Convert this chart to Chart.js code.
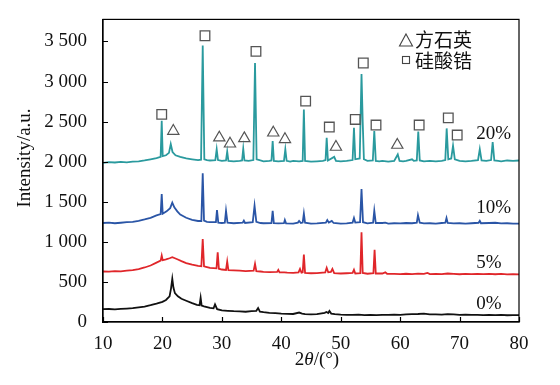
<!DOCTYPE html>
<html><head><meta charset="utf-8">
<script src="https://cdn.jsdelivr.net/npm/chart.js@4.4.0/dist/chart.umd.min.js"></script>
<style>html,body{margin:0;padding:0;background:#fff}</style>
</head><body>
<canvas id="c" width="560" height="385"></canvas>
<script>
// ---- data (2θ in degrees, intensity in a.u.) ----
const xTicks = [10,20,30,40,50,60,70,80];
const yTicks = [0,500,1000,1500,2000,2500,3000,3500];
const yTickLabels = ['0','500','1 000','1 500','2 000','2 500','3 000','3 500'];
const seriesNames = ['0%','5%','10%','20%'];
const legendNames = ['方石英','硅酸锆'];

const s0 = [[10,160],[11,162],[12,158],[13,165],[14,168],[15,172],[16,182],[17,192],[18,210],[19,230],[20,252],[20.6,275],[21.2,320],[21.45,420],[21.66,540],[21.85,430],[22.1,360],[22.6,320],[23.2,290],[24,265],[25,235],[25.8,215],[26.25,210],[26.43,303],[26.6,205],[27,195],[28,175],[28.6,170],[28.85,220],[29.2,160],[30,145],[31,140],[32,135],[33,132],[34,128],[35,135],[35.8,140],[36.1,175],[36.4,130],[37,122],[38,115],[39,110],[40,105],[41,102],[42,100],[43,118],[43.5,105],[44,98],[45,95],[46,97],[47.3,115],[47.6,125],[47.9,112],[48.1,137],[48.4,105],[49,98],[50,92],[51,90],[52,88],[53,92],[54,86],[55,88],[56,85],[57,90],[58,88],[59,92],[60,90],[61,95],[62,98],[63,100],[64,104],[65,96],[66,95],[67,92],[68,98],[69,94],[70,90],[71,92],[72,88],[73,90],[74,86],[75,88],[76,85],[77,88],[78,84],[79,86],[80,85]];

const s5 = [[10,630],[11,628],[12,635],[13,632],[14,640],[15,648],[16,660],[17,680],[18,705],[19,740],[19.7,765],[19.88,829],[20.05,770],[20.6,780],[21.2,795],[21.66,808],[22.1,795],[22.6,780],[23.2,760],[24,735],[25,715],[26,700],[26.55,695],[26.78,1036],[27,695],[27.5,685],[28,675],[29.1,670],[29.3,870],[29.5,665],[30,655],[30.7,650],[30.9,754],[31.1,648],[32,645],[33,640],[34,635],[35.35,640],[35.58,726],[35.8,635],[36.5,630],[37,625],[38,622],[39.3,625],[39.5,651],[39.7,620],[40.5,618],[41,615],[42,612],[42.9,620],[43.15,663],[43.4,615],[43.6,620],[43.8,841],[44,612],[45,608],[46,610],[47.4,620],[47.64,676],[47.9,620],[48.35,625],[48.6,663],[48.9,610],[50,605],[51,608],[52,612],[52.23,651],[52.45,605],[53.3,610],[53.5,1118],[53.7,612],[54.5,602],[55.5,608],[55.7,900],[55.9,605],[57,605],[57.5,620],[57.8,602],[59,600],[60,598],[61,602],[62,598],[63,604],[64,600],[64.6,612],[65,598],[66,600],[67,598],[68,605],[69,600],[70,596],[71,600],[72,597],[73,600],[74,598],[75,600],[76,596],[77,600],[78,595],[79,598],[80,595]];

const s10 = [[10,1235],[11,1240],[12,1232],[13,1238],[14,1245],[15,1250],[16,1262],[17,1280],[18,1300],[19,1330],[19.7,1345],[19.88,1595],[20.05,1350],[20.7,1380],[21.3,1420],[21.66,1490],[22,1430],[22.5,1380],[23,1340],[24,1300],[25,1275],[26,1260],[26.55,1260],[26.78,1855],[27,1265],[27.5,1250],[28,1245],[29,1245],[29.18,1397],[29.4,1240],[30,1235],[30.5,1240],[30.7,1388],[30.95,1238],[32,1232],[33.5,1240],[33.7,1264],[33.9,1235],[35.2,1245],[35.5,1450],[35.8,1250],[36.5,1235],[37,1232],[38.35,1235],[38.55,1388],[38.75,1232],[39.5,1230],[40.45,1232],[40.6,1272],[40.8,1230],[42,1228],[42.8,1240],[43,1260],[43.3,1235],[43.6,1240],[43.8,1354],[44,1238],[45,1228],[46,1230],[47.5,1240],[47.74,1272],[48,1240],[48.5,1260],[48.8,1235],[50,1228],[51,1230],[52,1240],[52.23,1297],[52.45,1240],[53.25,1245],[53.5,1658],[53.75,1245],[54.5,1230],[55.45,1240],[55.65,1388],[55.9,1235],[57,1235],[57.5,1240],[58,1228],[59,1232],[60,1230],[61,1235],[62,1232],[62.8,1240],[63,1334],[63.3,1240],[64,1230],[65,1232],[66,1228],[67,1235],[67.6,1240],[67.8,1297],[68,1235],[69,1230],[70,1232],[71,1228],[72,1232],[73.2,1238],[73.4,1262],[73.6,1232],[75,1235],[76,1238],[77,1230],[78,1232],[79,1228],[80,1228]];

const s20 = [[10,1985],[11,1995],[12,1990],[13,1998],[14,1992],[15,2000],[16,2005],[17,2015],[18,2030],[19,2045],[19.7,2060],[19.88,2510],[20.05,2070],[20.6,2080],[21.1,2110],[21.4,2220],[21.7,2120],[22.2,2080],[23,2060],[24,2040],[25,2030],[26,2020],[26.5,2025],[26.78,3450],[27.05,2030],[27.5,2020],[28,2015],[28.9,2020],[29.13,2155],[29.35,2020],[30,2010],[30.7,2015],[30.9,2125],[31.1,2010],[32,2005],[33,2010],[33.4,2015],[33.6,2162],[33.8,2015],[34.5,2010],[35.3,2020],[35.58,3230],[35.85,2030],[36.5,2015],[37,2005],[38,2010],[38.35,2015],[38.55,2258],[38.75,2010],[39.5,2005],[40.45,2010],[40.68,2155],[40.9,2010],[41.5,2000],[42,2010],[43,2005],[43.6,2010],[43.8,2652],[44,2010],[45,2000],[46,2005],[47,2010],[47.45,2020],[47.64,2299],[47.85,2015],[48.9,2060],[49.2,2010],[50,2005],[51,2010],[52,2020],[52.23,2423],[52.45,2030],[53.2,2040],[53.5,3095],[53.7,2500],[53.9,2030],[54.5,2010],[55.4,2015],[55.65,2382],[55.9,2010],[56.5,2005],[57,2010],[58,2000],[59,2010],[59.6,2090],[59.9,2010],[60.5,2005],[61,2010],[62,2030],[62.3,2010],[62.8,2015],[63.05,2375],[63.3,2015],[64,2005],[65,2010],[66,2005],[67,2010],[67.6,2020],[67.83,2415],[68.1,2030],[68.6,2040],[68.9,2200],[69.2,2030],[70,2010],[71,2005],[72,2010],[73.1,2020],[73.4,2155],[73.7,2015],[74.5,2010],[75.3,2020],[75.57,2245],[75.85,2015],[76.5,2010],[77,2005],[78,2015],[79,2010],[80,2015]];

// phase marker positions (2θ, height of symbol)
const cristobaliteMarks = [[21.83,2382],[29.57,2299],[31.37,2224],[33.78,2291],[38.65,2361],[40.62,2279],[49.2,2183],[59.52,2208]];
const zirconMarks = [[19.88,2590],[27.16,3571],[35.74,3376],[44.1,2755],[48.08,2432],[52.45,2527],[53.8,3231],[55.94,2457],[63.2,2457],[68.1,2547],[69.6,2332]];

// ---- chart ----
const colors = ['#111111','#e0262a','#2a55a6','#2a9a9e'];
const seriesData = [s0, s5, s10, s20];
const toXY = a => a.map(p => ({x:p[0], y:p[1]}));
const SERIF = '"Liberation Serif","Times New Roman",serif';
const CJK = '"Noto Sans CJK SC",sans-serif';

const lineSets = seriesData.map((d,i)=>({
  label: seriesNames[i], data: toXY(d), borderColor: colors[i], borderWidth: 1.8,
  pointRadius: 0, tension: 0, fill: false, order: 2
}));
const markSets = [
  {label: legendNames[0], data: toXY(cristobaliteMarks), showLine:false, pointStyle:'triangle',
   pointRadius:6.5, pointBorderColor:'#555', pointBackgroundColor:'rgba(255,255,255,0)', pointBorderWidth:1.2, order:1},
  {label: legendNames[1], data: toXY(zirconMarks), showLine:false, pointStyle:'rect',
   pointRadius:6.8, pointBorderColor:'#555', pointBackgroundColor:'rgba(255,255,255,0)', pointBorderWidth:1.3, order:1}
];

const decor = {
  id: 'decor',
  afterDraw(chart) {
    const {ctx, chartArea: a, scales:{x, y}} = chart;
    ctx.save();
    // frame
    ctx.strokeStyle = '#000'; ctx.lineWidth = 1.2;
    ctx.strokeRect(a.left, a.top, a.right - a.left, a.bottom - a.top);
    // inward ticks
    ctx.lineWidth = 1.2; ctx.beginPath();
    yTicks.forEach(v => { const p = Math.round(y.getPixelForValue(v)) + 0.5; ctx.moveTo(a.left, p); ctx.lineTo(a.left + 5, p); });
    xTicks.forEach(v => { const p = Math.round(x.getPixelForValue(v)) + 0.5; ctx.moveTo(p, a.bottom); ctx.lineTo(p, a.bottom - 5); });
    ctx.stroke();
    // y title
    ctx.fillStyle = '#111'; ctx.font = '19px ' + SERIF;
    ctx.textAlign = 'center'; ctx.textBaseline = 'middle';
    ctx.save(); ctx.translate(25, 158); ctx.rotate(-Math.PI/2); ctx.fillText('Intensity/a.u.', 0, 0); ctx.restore();
    // x title: 2θ/(°) with italic θ
    const parts = [['2', '19px ' + SERIF], ['θ', 'italic 19px ' + SERIF], ['/(°)', '19px ' + SERIF]];
    let total = 0;
    parts.forEach(p => { ctx.font = p[1]; total += ctx.measureText(p[0]).width; });
    let cx = 317 - total / 2;
    ctx.textAlign = 'left';
    parts.forEach(p => { ctx.font = p[1]; ctx.fillText(p[0], cx, 360); cx += ctx.measureText(p[0]).width; });
    // series labels
    ctx.font = '19px ' + SERIF;
    const anchors = [[72.8,221],[72.8,742],[72.8,1425],[72.8,2345]];
    seriesNames.forEach((n,i) => ctx.fillText(n, x.getPixelForValue(anchors[i][0]), y.getPixelForValue(anchors[i][1])));
    // legend
    ctx.strokeStyle = '#444'; ctx.lineWidth = 1.1;
    ctx.beginPath(); ctx.moveTo(406, 34); ctx.lineTo(412.5, 46); ctx.lineTo(399.5, 46); ctx.closePath(); ctx.stroke();
    ctx.strokeRect(402.5, 56.5, 7, 7);
    ctx.fillStyle = '#111'; ctx.font = '19px ' + CJK; ctx.textBaseline = 'middle';
    ctx.fillText(legendNames[0], 415, 40);
    ctx.fillText(legendNames[1], 415, 61);
    ctx.restore();
  }
};

new Chart(document.getElementById('c'), {
  type: 'line',
  data: { datasets: [...lineSets, ...markSets] },
  options: {
    responsive: false, animation: false, devicePixelRatio: 1,
    layout: { padding: { left: 0, right: 41, top: 18, bottom: 0 } },
    plugins: { legend: { display: false }, tooltip: { enabled: false } },
    scales: {
      x: {
        type: 'linear', min: 10, max: 80,
        afterFit: s => { s.height = 63; },
        afterBuildTicks: s => { s.ticks = xTicks.map(v => ({value: v})); },
        grid: { display: false },
        border: { display: true, color: '#000', width: 1.2 },
        ticks: { color: '#111', font: { family: SERIF, size: 19 }, padding: 3, maxRotation: 0, autoSkip: false },
        title: { display: false }
      },
      y: {
        type: 'linear', min: 0, max: 3775,
        afterFit: s => { s.width = 103; },
        afterBuildTicks: s => { s.ticks = yTicks.map(v => ({value: v})); },
        grid: { display: false },
        border: { display: true, color: '#000', width: 1.2 },
        ticks: { color: '#111', font: { family: SERIF, size: 19 }, padding: 8, autoSkip: false,
          callback: (v) => { const i = yTicks.indexOf(v); return i >= 0 ? yTickLabels[i] : ''; } }
      }
    }
  },
  plugins: [decor]
});
</script>
</body></html>
